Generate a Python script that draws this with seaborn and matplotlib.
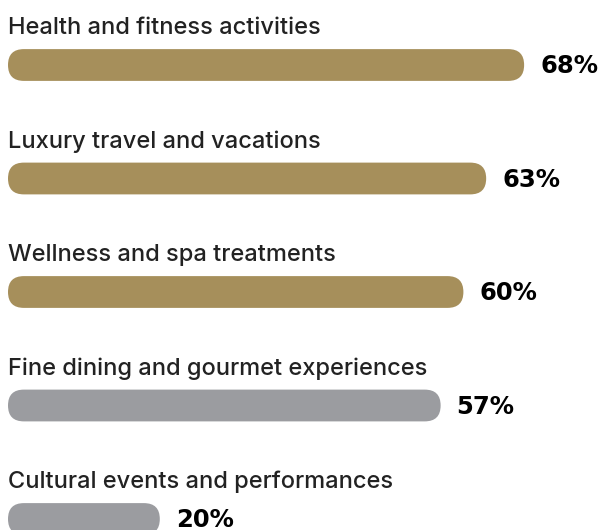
import matplotlib
matplotlib.use("Agg")
import matplotlib.pyplot as plt
import seaborn as sns
import pandas as pd
from matplotlib.patches import FancyBboxPatch

# Share of respondents per activity
categories = [
    "Health and fitness activities",
    "Luxury travel and vacations",
    "Wellness and spa treatments",
    "Fine dining and gourmet experiences",
    "Cultural events and performances",
]
values = [68, 63, 60, 57, 20]
groups = ["top", "top", "top", "other", "other"]

GOLD = "#A68F5B"
GRAY = "#9B9CA0"

sns.set_theme(style="white")
plt.rcParams["font.family"] = ["Inter", "DejaVu Sans"]

W, H = 604, 530
fig = plt.figure(figsize=(W / 100, H / 100), dpi=100)
ax = fig.add_axes([0, 0, 1, 1])

df = pd.DataFrame({"category": categories, "value": values, "group": groups})
BAR_H = 0.28
sns.barplot(data=df, x="value", y="category", hue="group",
            palette={"top": GOLD, "other": GRAY}, dodge=False,
            width=BAR_H, legend=False, saturation=1, ax=ax)

# value axis: 0 at 8px, ~7.59 px per percent
px_per_x = 7.59
xmin = -8 / px_per_x
xmax = xmin + W / px_per_x
# category axis: first bar centred at 65px, 113.5px between bars
px_per_y = 113.5
ymin = -65 / px_per_y
ymax = ymin + H / px_per_y
ax.set_xlim(xmin, xmax)
ax.set_ylim(ymax, ymin)
ax.axis("off")

# swap the square bars for pill-shaped ones
x_per_px = 1 / px_per_x
y_per_px = 1 / px_per_y
aspect = y_per_px / x_per_px
for p in list(ax.patches):
    x0, y0 = p.get_x(), p.get_y()
    w, h = p.get_width(), p.get_height()
    if w <= 0:
        continue
    r = abs(h) / aspect / 2
    pill = FancyBboxPatch((x0, y0), w, h,
                          boxstyle=f"round,pad=0,rounding_size={r}",
                          mutation_aspect=aspect,
                          facecolor=p.get_facecolor(), edgecolor="none")
    p.remove()
    ax.add_patch(pill)

for i, (cat, v) in enumerate(zip(categories, values)):
    ax.text(0, i - 31 / px_per_y, cat, ha="left", va="baseline",
            fontsize=17, fontweight="medium", color="#222222")
    ax.text(v + 16 / px_per_x, i + 8 / px_per_y, f"{v}%", ha="left",
            va="baseline", fontsize=17.5, fontweight="bold",
            family=["DejaVu Sans"], color="#000000")

fig.savefig("out.png", dpi=100, facecolor="white")
